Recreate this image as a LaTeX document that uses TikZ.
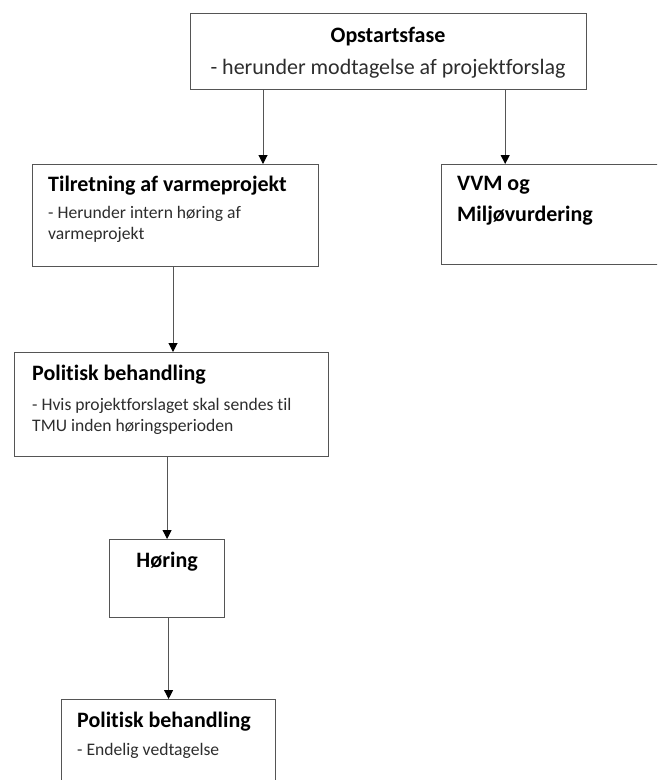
\documentclass[tikz,border=0pt]{standalone}
\usepackage{fontspec}
\setmainfont{Carlito}[Ligatures=NoCommon]
\usetikzlibrary{arrows.meta, positioning, calc}
\definecolor{BoxGray}{RGB}{85,85,85}
\definecolor{TextGray}{RGB}{45,45,45}

\begin{document}
\begin{tikzpicture}[x=1pt, y=-1pt,
	boks/.style={draw=BoxGray, line width=1.2pt, anchor=north west, inner sep=0pt},
	pil/.style={draw=BoxGray, line width=1pt, -{Triangle[length=9pt, width=9pt, color=black]}},
	titel/.style={anchor=base west, inner sep=0pt, text=black,
		font=\bfseries\fontsize{22}{24}\selectfont},
	under/.style={anchor=base west, inner sep=0pt, text=TextGray,
		font=\fontsize{17.6}{21}\selectfont}]
	\clip (0,0) rectangle (657,780);

	% kasserne
	\node[boks, minimum width=396pt, minimum height=76pt] (opstart) at (190,13) {};
	\node[boks, minimum width=286pt, minimum height=102pt] (tilret) at (32,164) {};
	\node[boks, minimum width=240pt, minimum height=100pt] (vvm) at (441,164) {};
	\node[boks, minimum width=314pt, minimum height=104pt] (polit) at (14,352) {};
	\node[boks, minimum width=115pt, minimum height=78pt] (hoering) at (109,539) {};
	\node[boks, minimum width=214pt, minimum height=120pt] (vedtag) at (61,699) {};

	% tekster
	\node[titel, anchor=base] (opstartT) at (388,42) {Opstartsfase};
	\node[under, anchor=base, font=\fontsize{22}{24}\selectfont] (opstartU) at (388,74)
		{- herunder modtagelse af projektforslag};

	\node[titel] (tilretT) at (48,191) {Tilretning af varmeprojekt};
	\node[under] (tilretU1) at (48,218) {- Herunder intern høring af};
	\node[under] (tilretU2) at (48,239) {varmeprojekt};

	\node[titel] (vvmT1) at (457,190) {VVM og};
	\node[titel] (vvmT2) at (457,221) {Miljøvurdering};

	\node[titel] (politT) at (32,380) {Politisk behandling};
	\node[under] (politU1) at (32,410) {- Hvis projektforslaget skal sendes til};
	\node[under] (politU2) at (32,431) {TMU inden høringsperioden};

	\node[titel, anchor=base] (hoeringT) at (hoering.north |- 0,567) {Høring};

	\node[titel] (vedtagT) at (77,727) {Politisk behandling};
	\node[under] (vedtagU) at (77,755) {- Endelig vedtagelse};

	% pile
	\draw[pil] ([xshift=73pt]opstart.south west) -- ([xshift=73pt]opstart.south west |- tilret.north);
	\draw[pil] ([xshift=-82pt]opstart.south east) -- ([xshift=-82pt]opstart.south east |- vvm.north);
	\draw[pil] ([xshift=141pt]tilret.south west) -- ([xshift=141pt]tilret.south west |- polit.north);
	\draw[pil] (hoering.north |- polit.south) -- (hoering.north);
	\draw[pil] ([xshift=1.5pt]hoering.south) -- ([xshift=1.5pt]hoering.south |- vedtag.north);
\end{tikzpicture}
\end{document}
